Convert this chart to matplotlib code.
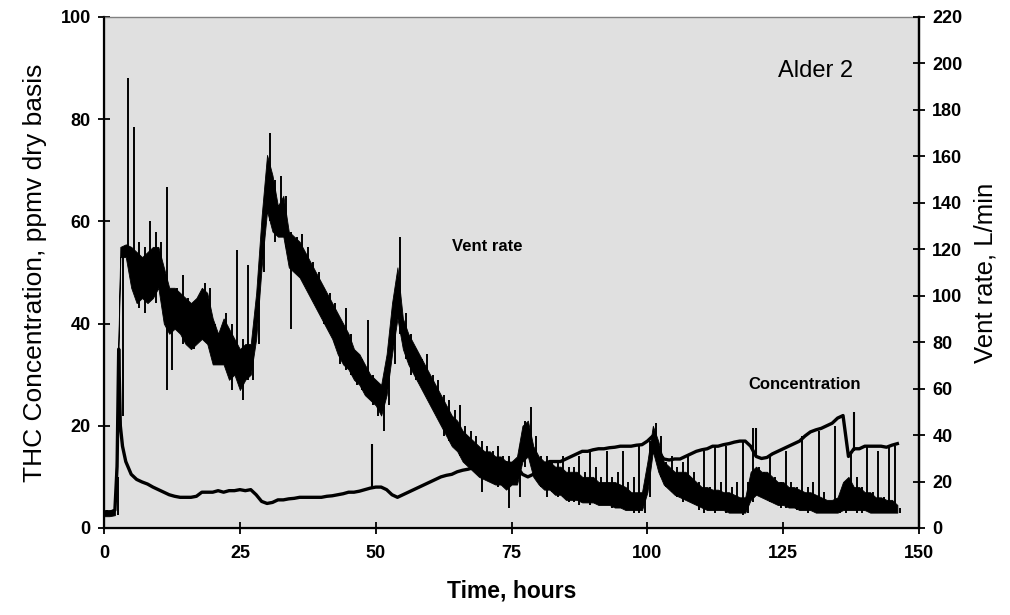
import numpy as np
import matplotlib
matplotlib.use("Agg")
import matplotlib.pyplot as plt
from matplotlib import font_manager

# ---------------- data ----------------
# Trace A (large, noisy trace): dense core band, hourly low/high, hours 0..146
a_band_lo = [2.3, 2.3, 2.5, 53, 53, 47, 44, 45, 44, 45,
             47, 40, 38, 39, 38, 36, 35, 36, 37, 36,
             32, 32, 32, 29, 30, 27, 29, 30, 37, 51,
             62, 58, 57, 57, 51, 50, 49, 47, 45, 43,
             41, 39, 37, 34, 32, 31, 29, 28, 26, 25,
             24, 22, 26, 34, 41, 35, 32, 30, 28, 26,
             24, 22, 20, 18, 16, 15, 13, 12, 11, 10,
             9.5, 9, 8.5, 8.5, 7.5, 8.5, 8.5, 13, 14, 10,
             8.5, 7.5, 7.5, 6.5, 6.5, 5.5, 5.5, 5.5, 5, 5,
             5, 4.5, 4.5, 4.5, 4, 4, 3.5, 3.5, 3.5, 3.5,
             7, 15, 11, 8.5, 7.5, 6.5, 6, 5.5, 5, 4.5,
             4, 3.5, 3.5, 3.5, 3.5, 3, 3, 3, 3, 5.5,
             6.5, 6, 5.5, 5, 4.5, 4.5, 4, 4, 3.5, 3.5,
             3.5, 3, 3, 3, 3, 3, 3.5, 3.5, 3.5, 3.5,
             3.5, 3, 3, 3, 3, 3, 3]
a_band_hi = [3.5, 3.5, 3.5, 55, 55.5, 55, 54, 53, 54, 55,
             55, 51, 47, 47, 46, 45, 44, 45, 47, 46,
             41, 38, 41, 39, 37, 35, 36, 36, 46, 61,
             73, 69, 63, 65, 58, 57, 56, 54, 52, 50,
             48, 46, 44, 42, 40, 38, 35, 34, 32, 30,
             29, 28, 34, 44, 51, 41, 38, 36, 34, 32,
             30, 28, 26, 24, 22, 21, 19, 18, 17, 16,
             15, 15, 14, 14, 13, 13, 14, 20, 21, 16,
             14, 13, 13, 12, 12, 11, 11, 11, 10, 10,
             10, 9, 9, 9, 9, 8.5, 8, 7, 7, 7,
             13, 20, 17, 13, 12, 11, 11, 11, 10, 9,
             8, 8, 7.5, 7.5, 7, 7, 6.5, 6, 6, 11,
             12, 11, 11, 10, 9, 9, 8, 8, 7.5, 7,
             7, 6.5, 6, 5.5, 5.5, 6, 9, 10, 8, 8,
             7, 7, 6, 6, 5.5, 5.5, 4.5]

# Trace A extremes: hourly lowest / highest excursion, hours 0..146
a_lo = [2.5, 2.3, 2.5, 22, 53, 50, 43, 42, 45, 44,
        47, 27, 31, 39, 36, 36, 35, 37, 38, 36,
        32, 33, 32, 27, 30, 25, 29, 29, 36, 50,
        60, 56, 57, 55, 39, 50, 51, 47, 45, 43,
        40, 39, 36, 32, 31, 30, 28, 27, 26, 24,
        22, 19, 24, 32, 38, 33, 30, 29, 28, 26,
        24, 22, 18, 17, 16, 14, 13, 12, 11, 7,
        10, 9, 8, 9, 4, 9, 6, 12, 14, 10,
        8, 6, 7, 6, 6, 5, 5, 4.5, 5, 4.5,
        5, 4.5, 5, 4, 5, 4, 3.5, 3, 3, 3,
        6, 14, 10, 8, 7, 6, 5, 6, 5, 3.5,
        3, 3.5, 3, 4, 3, 3, 3, 2.6, 3, 5,
        7, 6, 5, 5, 4, 4, 4, 3.5, 3.5, 3,
        3.5, 3, 3, 3, 3, 3, 3, 4, 3, 3,
        4, 3, 3, 3, 3, 3, 3]
a_hi = [3.5, 3.5, 10, 54, 88, 78.5, 56, 55, 60, 58,
        56, 66.8, 46, 47, 49.5, 45, 44, 45, 48, 47,
        40, 38, 42, 40, 54.4, 37, 51.4, 36, 46, 62,
        77.3, 68, 68.8, 65, 58, 57, 57.6, 55, 52, 50,
        47, 46, 44, 40, 43, 38, 34, 33, 40.6, 30,
        28, 27, 34, 45, 57, 42, 38, 35, 33, 34,
        30, 29, 26, 25, 23, 24, 20, 19, 18, 17,
        16, 15, 16, 14, 14, 13, 16, 21, 23.6, 18,
        14, 14, 13, 13, 14, 12, 12, 14, 11, 15,
        12, 10, 15, 10, 11, 15, 9, 10, 16, 8,
        17, 20.5, 18, 13, 14, 12, 13, 14, 11, 9,
        15, 8, 16, 9, 16, 8, 9, 17, 9, 19.5,
        12, 11, 14, 10, 9, 15, 9, 8, 18, 8,
        9, 19, 7, 5, 20, 5, 8, 15, 10, 8,
        16, 7, 15, 6, 16, 16, 4]

# Trace B (smooth lower trace): start detail, then hourly values from hour 4 to 146
b_head_t = [0, 1, 2, 2.4, 2.7, 3.0, 3.4]
b_head_v = [3, 3, 3.5, 12, 35, 20, 16]
b_vals = [13, 10.5, 9.5, 9, 8.6, 8, 7.5, 7, 6.5, 6.2,
          6, 6, 6, 6.2, 7, 7, 7, 7.3, 7, 7.3,
          7.3, 7.5, 7.3, 7.5, 6.5, 5.2, 4.8, 5, 5.5, 5.5,
          5.7, 5.8, 6, 6, 6, 6, 6, 6.2, 6.3, 6.5,
          6.7, 7, 7, 7.2, 7.5, 7.8, 8, 8, 7.5, 6.5,
          6, 6.5, 7, 7.5, 8, 8.5, 9, 9.5, 10, 10.3,
          10.5, 11, 11.3, 11.5, 11.8, 12, 12, 12.3, 12.5, 12.5,
          12.8, 12.5, 12, 10.5, 10, 10.5, 11.5, 12.5, 13, 13,
          13, 13.5, 14, 14.5, 15, 15, 15.3, 15.5, 15.5, 15.7,
          15.8, 16, 16, 16, 16.2, 16.3, 17, 18, 15, 13.5,
          13.3, 13.5, 13.5, 14, 14.5, 15, 15.3, 15.5, 16, 16,
          16.3, 16.5, 16.8, 17, 17, 16, 14, 13.6, 13.8, 14.5,
          15, 15.5, 16, 16.5, 17, 18, 18.8, 19.2, 19.5, 20,
          20.5, 21.5, 22, 14, 15.5, 15.5, 16, 16, 16, 16,
          15.8, 16.2, 16.5]
# isolated narrow spikes on trace B
b_spike_t = [49.3, 120.0, 138.0]
b_spike_lo = [8, 14, 15]
b_spike_hi = [16.5, 19.5, 22.7]

x_ticks = [0, 25, 50, 75, 100, 125, 150]
left_ticks = [0, 20, 40, 60, 80, 100]
right_ticks = list(range(0, 221, 20))

# ---------------- fonts ----------------
avail = {f.name for f in font_manager.fontManager.ttflist}
narrow = "Liberation Sans Narrow" if "Liberation Sans Narrow" in avail else "Liberation Sans"
plt.rcParams["font.family"] = ["Liberation Sans", "DejaVu Sans"]

# ---------------- figure ----------------
fig = plt.figure(figsize=(10.1, 6.15), dpi=100)
ax = fig.add_axes([0.103, 0.1415, 0.807, 0.831])
ax.set_facecolor("#e0e0e0")

hours = np.arange(len(a_band_lo))
ax.fill_between(hours, a_band_lo, a_band_hi, color="black", lw=0.6, edgecolor="black")
ax.vlines(hours + 0.5, a_lo, a_hi, color="black", lw=1.4)

# trace B
b_t = list(b_head_t) + list(np.arange(4, 4 + len(b_vals)))
b_v = list(b_head_v) + list(b_vals)
ax.plot(b_t, b_v, color="black", lw=2.4)
ax.vlines(b_spike_t, b_spike_lo, b_spike_hi, color="black", lw=1.5)

ax.set_xlim(0, 150)
ax.set_ylim(0, 100)
ax.set_xticks(x_ticks)
ax.set_yticks(left_ticks)
ax.tick_params(axis="both", direction="inout", length=9, width=1.3, color="black")
for lab in ax.get_xticklabels():
    lab.set_fontfamily(narrow)
    lab.set_fontweight("bold")
    lab.set_fontsize(13)
for lab in ax.get_yticklabels():
    lab.set_fontweight("bold")
    lab.set_fontsize(13)
ax.tick_params(axis="x", pad=8)
ax.tick_params(axis="y", pad=5)

for side in ["left", "bottom", "right"]:
    ax.spines[side].set_color("black")
    ax.spines[side].set_linewidth(1.6)
ax.spines["top"].set_color("#808080")
ax.spines["top"].set_linewidth(1.0)

ax.set_xlabel("Time, hours", fontsize=16.5, fontweight="bold", fontfamily=narrow, labelpad=12)
ax.set_ylabel("THC Concentration, ppmv dry basis", fontsize=19, labelpad=10)

ax2 = ax.twinx()
ax2.set_ylim(0, 220)
ax2.set_yticks(right_ticks)
ax2.tick_params(axis="y", direction="inout", length=9, width=1.3, pad=5)
for lab in ax2.get_yticklabels():
    lab.set_fontweight("bold")
    lab.set_fontsize(13)
ax2.spines["right"].set_linewidth(1.6)
ax2.spines["top"].set_visible(False)
ax2.set_ylabel("Vent rate, L/min", fontsize=18.5, labelpad=8)

ax.text(131, 89.5, "Alder 2", fontsize=17, ha="center", va="center")
ax.text(70.5, 55, "Vent rate", fontsize=12, fontweight="bold", ha="center", va="center")
ax.text(129, 28, "Concentration", fontsize=12, fontweight="bold", ha="center", va="center")

fig.savefig("out.png", dpi=100)
